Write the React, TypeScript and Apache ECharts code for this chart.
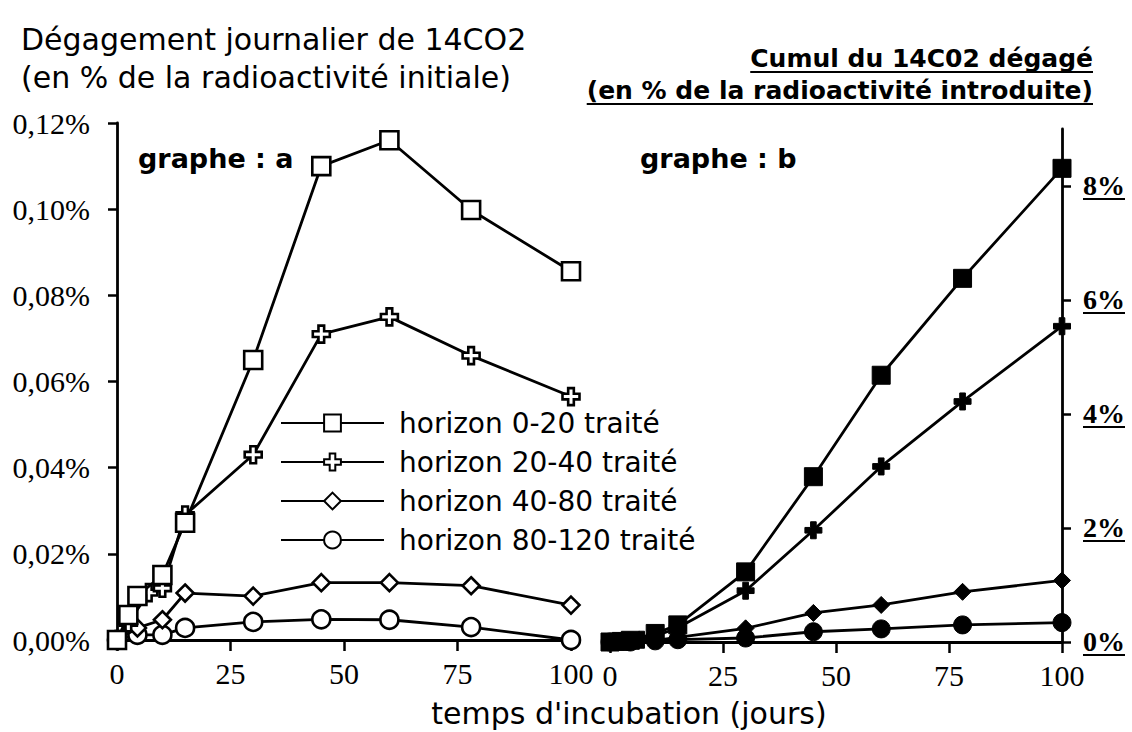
import React, { useEffect, useRef } from 'react';
import * as echarts from 'echarts';

// ---- data ----
const days = [0, 2.5, 4.5, 7, 10, 15, 30, 45, 60, 78, 100];

// graphe a : daily release (% of initial radioactivity)
const daily0_20 = [0, 0.0058, 0.0102, null, 0.0151, 0.0272, 0.065, 0.11, 0.116, 0.0998, 0.0856];
const daily20_40 = [0, 0.004, null, 0.011, 0.012, 0.029, 0.043, 0.071, 0.075, 0.066, 0.0565];
const daily40_80 = [0, null, 0.0028, null, 0.0047, 0.0109, 0.0102, 0.0133, 0.0133, 0.0126, 0.0081];
const daily80_120 = [0, null, 0.0012, null, 0.0012, 0.0028, 0.0042, 0.0048, 0.0047, 0.003, 0];

// graphe b : cumulative release (% of introduced radioactivity)
const cum0_20 = [0, 0.01, 0.03, null, 0.15, 0.3, 1.23, 2.9, 4.68, 6.38, 8.31];
const cum20_40 = [0, 0.01, 0.02, 0.04, 0.1, 0.25, 0.9, 1.96, 3.08, 4.22, 5.54];
const cum40_80 = [0, null, 0.01, null, 0.03, 0.08, 0.24, 0.51, 0.65, 0.88, 1.08];
const cum80_120 = [0, null, 0, null, 0.02, 0.04, 0.07, 0.18, 0.23, 0.3, 0.34];

const seriesNames = [
  'horizon 0-20 traité',
  'horizon 20-40 traité',
  'horizon 40-80 traité',
  'horizon 80-120 traité',
];
const rightTicks = [0, 2, 4, 6, 8];

const SANS = '"DejaVu Sans", sans-serif';
const SERIF = '"Liberation Serif", "Times New Roman", serif';
const PLUS = 'path://M2,0L4,0L4,2L6,2L6,4L4,4L4,6L2,6L2,4L0,4L0,2L2,2Z';

function pairs(vals: (number | null)[]) {
  const out: number[][] = [];
  days.forEach((d, i) => {
    const v = vals[i];
    if (v !== null && v !== undefined) out.push([d, v]);
  });
  return out;
}

function measure(text: string, font: string) {
  const c = document.createElement('canvas').getContext('2d')!;
  c.font = font;
  return c.measureText(text).width;
}

export default function App() {
  const ref = useRef<HTMLDivElement>(null);

  useEffect(() => {
    const chart = echarts.init(ref.current!, null, { renderer: 'svg' });

    const mk = (name: string, vals: (number | null)[], symbol: string, size: number, filled: boolean, idx: number, z: number) => ({
      name,
      type: 'line',
      xAxisIndex: idx,
      yAxisIndex: idx,
      data: pairs(vals),
      symbol,
      symbolSize: size,
      showSymbol: true,
      z,
      lineStyle: { color: '#000', width: 2.8 },
      itemStyle: { color: filled ? '#000' : '#fff', borderColor: '#000', borderWidth: filled ? 1 : 2.6 },
      emphasis: { disabled: true },
    });

    const rLabelFont = `bold 28px ${SERIF}`;
    const rLabelW = measure('8%', rLabelFont);

    const t1Font = `bold 25px ${SANS}`;
    const t1a = 'Cumul du 14C02 dégagé';
    const t1b = '(en % de la radioactivité introduite)';
    const w1a = measure(t1a, t1Font);
    const w1b = measure(t1b, t1Font);
    const titleRight = 1093;

    const axisLineStyle = { color: '#000', width: 2.8 };

    const xAxisCommon = {
      type: 'value',
      min: 0,
      max: 100,
      interval: 25,
      axisLine: { show: true, onZero: false, lineStyle: axisLineStyle },
      axisTick: { show: true, inside: false, length: 11, lineStyle: { color: '#000', width: 2.5 } },
      axisLabel: { color: '#000', fontFamily: SERIF, fontSize: 30, margin: 18 },
      splitLine: { show: false },
    };

    const option: any = {
      animation: false,
      backgroundColor: '#fff',
      grid: [
        { left: 117, top: 123, width: 454, height: 517 },
        { left: 610, top: 129, width: 452, height: 513 },
      ],
      xAxis: [
        { ...xAxisCommon, gridIndex: 0 },
        { ...xAxisCommon, gridIndex: 1 },
      ],
      yAxis: [
        {
          gridIndex: 0,
          type: 'value',
          position: 'left',
          min: 0,
          max: 0.12,
          interval: 0.02,
          axisLine: { show: true, onZero: false, lineStyle: axisLineStyle },
          axisTick: { show: true, inside: false, length: 9, lineStyle: { color: '#000', width: 2.5 } },
          axisLabel: {
            color: '#000',
            fontFamily: SERIF,
            fontSize: 30,
            margin: 27,
            formatter: (v: number) => v.toFixed(2).replace('.', ',') + '%',
          },
          splitLine: { show: false },
        },
        {
          gridIndex: 1,
          type: 'value',
          position: 'right',
          min: 0,
          max: 9,
          interval: 1,
          axisLine: { show: true, onZero: false, lineStyle: axisLineStyle },
          axisTick: {
            show: true,
            inside: false,
            length: 9,
            customValues: rightTicks,
            lineStyle: { color: '#000', width: 2.5 },
          },
          axisLabel: {
            customValues: rightTicks,
            margin: 21,
            formatter: (v: number) => `{v|${v}%}\n{u|}`,
            rich: {
              v: { fontFamily: SERIF, fontWeight: 'bold', fontSize: 28, color: '#000', lineHeight: 26 },
              u: { width: rLabelW, height: 2, backgroundColor: '#000' },
            },
          },
          splitLine: { show: false },
        },
      ],
      legend: {
        data: seriesNames,
        orient: 'vertical',
        left: 275,
        top: 404,
        itemWidth: 103,
        itemHeight: 21,
        itemGap: 11,
        selectedMode: false,
        textStyle: { fontFamily: SANS, fontSize: 28, color: '#000', lineHeight: 28, padding: [0, 0, 0, 10] },
      },
      series: [
        mk(seriesNames[3], daily80_120, 'circle', 18, false, 0, 2),
        mk(seriesNames[2], daily40_80, 'diamond', 17, false, 0, 3),
        mk(seriesNames[1], daily20_40, PLUS, 17, false, 0, 4),
        mk(seriesNames[0], daily0_20, 'rect', 18, false, 0, 5),
        mk('cumul ' + seriesNames[3], cum80_120, 'circle', 18, true, 1, 2),
        mk('cumul ' + seriesNames[2], cum40_80, 'diamond', 17, true, 1, 3),
        mk('cumul ' + seriesNames[1], cum20_40, PLUS, 17, true, 1, 4),
        mk('cumul ' + seriesNames[0], cum0_20, 'rect', 18, true, 1, 5),
      ],
      graphic: [
        {
          type: 'text',
          left: 21,
          top: 20,
          style: {
            text: 'Dégagement journalier de 14CO2\n(en % de la radioactivité initiale)',
            font: `30px ${SANS}`,
            lineHeight: 38,
            fill: '#000',
          },
        },
        {
          type: 'text',
          x: titleRight,
          y: 58,
          style: { text: t1a, font: t1Font, fill: '#000', align: 'right', verticalAlign: 'middle' },
        },
        {
          type: 'text',
          x: titleRight,
          y: 90,
          style: { text: t1b, font: t1Font, fill: '#000', align: 'right', verticalAlign: 'middle' },
        },
        {
          type: 'line',
          shape: { x1: titleRight - w1a, y1: 72, x2: titleRight, y2: 72 },
          style: { stroke: '#000', lineWidth: 2 },
        },
        {
          type: 'line',
          shape: { x1: titleRight - w1b, y1: 104, x2: titleRight, y2: 104 },
          style: { stroke: '#000', lineWidth: 2 },
        },
        {
          type: 'text',
          x: 138,
          y: 158,
          style: { text: 'graphe : a', font: `bold 27px ${SANS}`, fill: '#000', verticalAlign: 'middle' },
        },
        {
          type: 'text',
          x: 640,
          y: 158,
          style: { text: 'graphe : b', font: `bold 27px ${SANS}`, fill: '#000', verticalAlign: 'middle' },
        },
        {
          type: 'text',
          x: 629,
          y: 713,
          style: {
            text: "temps d'incubation (jours)",
            font: `30px ${SANS}`,
            fill: '#000',
            align: 'center',
            verticalAlign: 'middle',
          },
        },
      ],
    };

    chart.setOption(option);
    return () => chart.dispose();
  }, []);

  return (
    <div
      ref={ref}
      style={{ position: 'absolute', left: 0, top: 0, width: 1132, height: 732 }}
    />
  );
}
